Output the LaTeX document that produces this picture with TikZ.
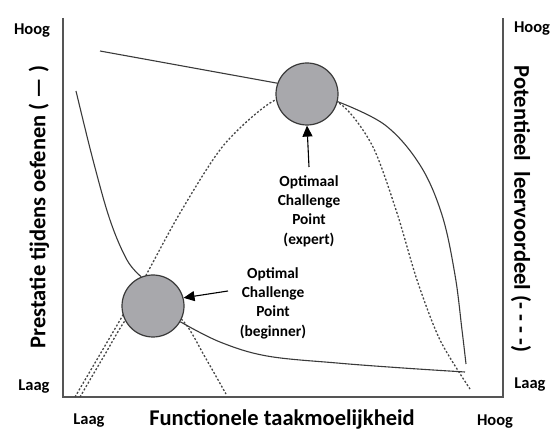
\documentclass[tikz,border=0pt]{standalone}
\usepackage{fontspec}
\setmainfont{Carlito}
\usetikzlibrary{arrows.meta}
\definecolor{linec}{HTML}{3A3A3A}
\definecolor{axisc}{HTML}{555555}
\definecolor{dotc}{HTML}{464646}
\definecolor{circfill}{HTML}{A8A8AC}
\tikzset{
  axisline/.style={draw=axisc, line width=1.5pt},
  perf/.style={draw=linec, line width=1.1pt},
  learn/.style={draw=dotc, line width=1.3pt, dash pattern=on 2pt off 1.9pt},
  cpoint/.style={circle, draw=linec, line width=1.2pt, fill=circfill, minimum size=62pt, inner sep=0pt},
  pointer/.style={draw=black, line width=1.1pt, -{Triangle[length=11pt,width=10pt]}},
  cornerlab/.style={font=\bfseries\fontsize{16.5}{19}\selectfont, text=black},
  axislab/.style={font=\bfseries\fontsize{22.5}{26}\selectfont, text=black},
  cplab/.style={font=\bfseries\fontsize{15.4}{19.3}\selectfont, align=center, text=black},
}
\begin{document}
\begin{tikzpicture}[x=1pt,y=-1pt]
\useasboundingbox (0,0) rectangle (552,430);
% axes
\coordinate (tl) at (63,18);
\coordinate (bl) at (63,397);
\coordinate (br) at (503,397);
\coordinate (tr) at (503,18);
\draw[axisline] (tl) -- (bl) -- (br) -- (tr);
% learning curves (dotted)
\draw[learn] plot[smooth, tension=0.5] coordinates {(75,397) (123,315) (145,277) (180,213) (223,146) (270,103) (307,92) (343,106) (373,147) (397,213) (417,280) (440,340) (470,389)};
\draw[learn] plot[smooth, tension=0.5] coordinates {(80,397) (104,356) (127,318) (152,296) (184,322) (205,357) (226,394)};
% circles
\node[cpoint] (exp) at (307,94) {};
\node[cpoint] (beg) at (153,306) {};
% performance curves (solid)
\coordinate (topstart) at (100,51);
\draw[perf] (topstart) -- (exp.160);
\draw[perf] plot[smooth, tension=0.6] coordinates {(exp.-14) (385,125) (420,165) (442,215) (455,275) (462,330) (466,364)};
\coordinate (leftstart) at (76,91);
\draw[perf] plot[smooth, tension=0.6] coordinates {(leftstart) (93,160) (110,220) (127,260) (beg.112)};
\coordinate (rightend) at (465,372);
\draw[perf] plot[smooth, tension=0.6] coordinates {(beg.-30) (220,342) (267,356) (337,363) (403,368) (rightend)};
% labels for challenge points
\node[cplab] (explab) at (309,211) {Optimaal\\Challenge\\Point\\(expert)};
\node[cplab] (beglab) at (273,303) {Optimal\\Challenge\\Point\\(beginner)};
\coordinate (exparr) at (309,167);
\draw[pointer] (exparr) -- (exp.south);
\coordinate (begarr) at (228,291);
\draw[pointer] (begarr) -- (beg.15);
% axis labels
\node[cornerlab] (hoogl) at (32,31) {Hoog};
\node[cornerlab] (laagl) at (34,387) {Laag};
\node[cornerlab] (hoogr) at (532,29) {Hoog};
\node[cornerlab] (laagr) at (530,385) {Laag};
\node[cornerlab] (laagb) at (89,421) {Laag};
\node[cornerlab] (hoogb) at (495,422) {Hoog};
\node[axislab] (xlab) at (282,419) {Functionele taakmoelijkheid};
\node[axislab, rotate=90] (ylab) at (39,207) {Prestatie tijdens oefenen ( — )};
\node[axislab, rotate=-90] (y2lab) at (521,209) {Potentieel\ \ leervoordeel (- - - -)};
\end{tikzpicture}
\end{document}
